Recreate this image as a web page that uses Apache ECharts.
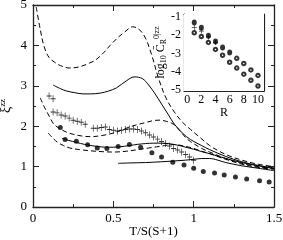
<!DOCTYPE html>
<html><head><meta charset="utf-8">
<script src="https://cdn.jsdelivr.net/npm/echarts@6/dist/echarts.min.js"></script>
<style>html,body{margin:0;padding:0;background:#fff}#c{width:283px;height:240px}</style>
</head><body><div id="c"></div>
<script>
// main panel curves
const d1X = [0.02,0.045,0.07,0.1,0.14,0.17,0.23,0.29,0.35,0.39,0.44,0.48,0.53,0.57,0.62,0.66,0.7,0.74,0.78,0.83,0.88,0.93,0.98,1.04,1.1,1.2,1.3,1.4,1.5];
const d1Y = [4.95,4.4,3.96,3.7,3.57,3.5,3.44,3.47,3.56,3.64,3.82,4.0,4.2,4.33,4.46,4.4,4.18,3.75,3.2,2.68,2.35,2.1,1.92,1.72,1.52,1.3,1.16,1.06,1.0];
const s1X = [0.125,0.17,0.21,0.26,0.31,0.36,0.42,0.47,0.52,0.58,0.63,0.68,0.72,0.76,0.8,0.84,0.88,0.93,0.98,1.05,1.1,1.2,1.3,1.4,1.5];
const s1Y = [3.02,2.93,2.87,2.83,2.8,2.8,2.82,2.87,2.95,3.12,3.22,3.18,3.02,2.8,2.55,2.3,2.05,1.83,1.67,1.52,1.42,1.25,1.12,1.03,0.97];
const d2X = [0.045,0.07,0.09,0.11,0.13,0.17,0.21,0.25,0.3,0.36,0.43,0.5,0.55,0.6,0.66,0.71,0.75,0.79,0.83,0.86,0.89,0.92,0.95,0.98,1.05,1.1,1.2,1.3,1.4,1.5];
const d2Y = [2.7,2.48,2.33,2.18,2.05,1.93,1.85,1.8,1.76,1.74,1.77,1.83,1.9,1.98,2.05,2.1,2.14,2.15,2.12,2.08,2.0,1.86,1.72,1.62,1.45,1.36,1.2,1.08,1.0,0.95];
const s2X = [0.18,0.22,0.27,0.32,0.36,0.4,0.45,0.5,0.54,0.6,0.65,0.7,0.75,0.8,0.84,0.9,0.95,1.0,1.05,1.1,1.2,1.3,1.4,1.5];
const s2Y = [1.7,1.65,1.6,1.55,1.52,1.5,1.48,1.48,1.49,1.52,1.55,1.57,1.58,1.58,1.57,1.53,1.48,1.43,1.37,1.32,1.2,1.1,1.02,0.95];
const d3X = [0.095,0.12,0.15,0.19,0.23,0.29,0.36,0.43,0.5,0.58,0.67,0.72,0.77,0.82,0.86,0.9,0.95,1.0,1.05,1.1,1.2,1.3,1.4,1.5];
const d3Y = [1.83,1.72,1.61,1.52,1.46,1.42,1.39,1.37,1.36,1.38,1.43,1.46,1.49,1.52,1.55,1.54,1.5,1.45,1.38,1.32,1.18,1.06,0.98,0.93];
const s3X = [0.53,0.6,0.7,0.8,0.88,0.95,1.0,1.05,1.1,1.15,1.2,1.3,1.4,1.5];
const s3Y = [1.08,1.09,1.1,1.12,1.14,1.16,1.18,1.2,1.2,1.16,1.1,1.02,0.96,0.9];
// main panel points
const dotX = [0.17,0.2,0.27,0.34,0.4,0.46,0.53,0.6,0.67,0.74,0.8,0.87,0.94,1.0,1.06,1.13,1.19,1.26,1.33,1.41,1.47];
const dotY = [1.97,1.67,1.63,1.54,1.46,1.45,1.5,1.55,1.48,1.34,1.24,1.11,1.04,0.96,0.88,0.84,0.79,0.74,0.69,0.65,0.62];
const crossX = [0.1,0.125,0.125,0.15,0.175,0.2,0.225,0.25,0.275,0.3,0.325,0.375,0.4,0.425,0.45,0.475,0.5,0.525,0.55,0.575,0.6,0.625,0.65,0.675,0.7,0.725,0.75,0.775,0.8,0.825,0.85,0.875,0.9,0.925,0.95,0.975,1.0];
const crossY = [2.75,2.68,2.35,2.33,2.28,2.25,2.2,2.15,2.12,2.1,2.05,1.95,1.95,1.97,1.98,1.92,1.9,1.88,1.9,1.92,1.93,1.93,1.92,1.88,1.84,1.78,1.73,1.68,1.62,1.57,1.51,1.45,1.41,1.36,1.3,1.24,1.16];
// inset
const inFillR = [1,2,3,4,5,6];
const inFillY = [-1.32,-1.6,-2.03,-2.35,-2.68,-2.95];
const inPlusR = [1,2,3,4];
const inPlusY = [-1.58,-1.78,-2.1,-2.4];
const inOpenR = [1,2,3,4,5,6,7,8,9,10];
const inOpenY = [-1.87,-2.08,-2.4,-2.78,-3.1,-3.48,-3.8,-4.13,-4.46,-4.78];
const inOpen2R = [7,8,9,10];
const inOpen2Y = [-3.27,-3.55,-3.9,-4.2];
const inXTicks = [0,2,4,6,8,10];
const inXMinor = [1,3,5,7,9];
const inYTicks = [-5,-4,-3,-2,-1];

const zip = (a,b) => a.map((v,i)=>[v,b[i]]);
const FONT = 'Liberation Serif';
const AX = '#222';
const crossSym = 'path://M4.3,0 H5.7 V4.3 H10 V5.7 H5.7 V10 H4.3 V5.7 H0 V4.3 H4.3 Z';

function mainX(pos, labels){
  return {type:'value', gridIndex:0, position:pos, min:0, max:1.5, interval:0.5,
    axisLine:{show:true, onZero:false, lineStyle:{color:AX, width:1.3}},
    axisTick:{show:true, inside:true, length:6, lineStyle:{color:AX}},
    minorTick:{show:true, splitNumber:2, length:3, lineStyle:{color:AX}},
    splitLine:{show:false},
    axisLabel:{show:labels, fontFamily:FONT, fontSize:13, color:'#000', margin:5},
    name: labels ? 'T/S(S+1)' : '', nameLocation:'middle', nameGap:18, nameMoveOverlap:false,
    nameTextStyle:{fontFamily:FONT, fontSize:13, color:'#000'}};
}
function mainY(pos, labels){
  return {type:'value', gridIndex:0, position:pos, min:0, max:5, interval:1,
    axisLine:{show:true, onZero:false, lineStyle:{color:AX, width:1.3}},
    axisTick:{show:true, inside:true, length:6, lineStyle:{color:AX}},
    minorTick:{show:true, splitNumber:2, length:3, lineStyle:{color:AX}},
    splitLine:{show:false},
    axisLabel:{show:labels, fontFamily:FONT, fontSize:13, color:'#000', margin:6},
    name: labels ? '{a|ξ}{b|zz}' : '', nameLocation:'middle', nameGap:19, nameMoveOverlap:false,
    nameTextStyle:{fontFamily:FONT, color:'#000',
      rich:{a:{fontFamily:FONT, fontSize:14, color:'#000'}, b:{fontFamily:FONT, fontSize:9, color:'#000', padding:[0,0,7,0]}}}};
}
function inX(pos, vals, len, labels, line){
  return {type:'value', gridIndex:1, position:pos, min:-0.45, max:10.85,
    axisLine:{show:line, onZero:false, lineStyle:{color:AX, width:1.2}},
    axisTick:{show:true, inside:true, length:len, customValues:vals, lineStyle:{color:AX}},
    splitLine:{show:false},
    axisLabel:{show:labels, customValues:vals, fontFamily:FONT, fontSize:12, color:'#000', margin:3},
    name: labels ? 'R' : '', nameLocation:'middle', nameGap:16, nameMoveOverlap:false,
    nameTextStyle:{fontFamily:FONT, fontSize:12, color:'#000'}};
}
function inY(pos, labels){
  return {type:'value', gridIndex:1, position:pos, min:-5.05, max:-0.85,
    axisLine:{show:true, onZero:false, lineStyle:{color:AX, width:1.2}},
    axisTick:{show:true, inside:true, length:4, customValues:inYTicks, lineStyle:{color:AX}},
    splitLine:{show:false},
    axisLabel:{show:labels, customValues:inYTicks, fontFamily:FONT, fontSize:12, color:'#000', margin:3},
    name: labels ? '{a|log}{s|10} {a|C̄}{s|R}{p|0|zz}' : '', nameLocation:'middle', nameGap:16, nameMoveOverlap:false,
    nameTextStyle:{fontFamily:FONT, color:'#000',
      rich:{a:{fontFamily:FONT, fontSize:12, color:'#000'},
            s:{fontFamily:FONT, fontSize:8, color:'#000', padding:[6,0,0,0]},
            p:{fontFamily:FONT, fontSize:8, color:'#000', padding:[0,0,7,0]}}}};
}

function line(x, y, dashed){
  return {type:'line', xAxisIndex:0, yAxisIndex:0, data:zip(x,y), showSymbol:false, smooth:0.35,
    lineStyle:{color:'#000', width:1, type: dashed ? [5,3] : 'solid'}, silent:true, z:2};
}

const option = {
  animation:false,
  backgroundColor:'#fff',
  grid:[
    {left:33, top:5, width:241, height:202, outerBoundsMode:'none', containLabel:false},
    {left:184, top:14, width:80, height:77, outerBoundsMode:'none', containLabel:false,
      show:true, backgroundColor:'#fff', borderWidth:0, z:5}
  ],
  xAxis:[ mainX('bottom', true), mainX('top', false),
          inX('bottom', inXTicks, 4, true, true), inX('bottom', inXMinor, 2, false, false),
          inX('top', inXTicks, 4, false, true), inX('top', inXMinor, 2, false, false) ],
  yAxis:[ mainY('left', true), mainY('right', false), inY('left', true), inY('right', false) ],
  series:[
    line(d1X,d1Y,true), line(s1X,s1Y,false), line(d2X,d2Y,true),
    line(s2X,s2Y,false), line(d3X,d3Y,true), line(s3X,s3Y,false),
    {type:'scatter', xAxisIndex:0, yAxisIndex:0, data:zip(dotX,dotY), symbol:'circle', symbolSize:5,
      itemStyle:{color:'#000'}, z:3},
    {type:'scatter', xAxisIndex:0, yAxisIndex:0, data:zip(crossX,crossY), symbol:crossSym, symbolSize:[5,7],
      itemStyle:{color:'#000'}, z:3},
    {type:'scatter', xAxisIndex:2, yAxisIndex:2, data:zip(inFillR,inFillY), symbol:'circle', symbolSize:[5,6],
      itemStyle:{color:'#000'}, z:6},
    {type:'scatter', xAxisIndex:2, yAxisIndex:2, data:zip(inPlusR,inPlusY), symbol:crossSym, symbolSize:[5,5],
      itemStyle:{color:'#000'}, z:6},
    {type:'scatter', xAxisIndex:2, yAxisIndex:2, data:zip(inOpenR,inOpenY), symbol:'emptyCircle', symbolSize:3.5,
      itemStyle:{color:'#000', borderColor:'#000', borderWidth:1}, z:6},
    {type:'scatter', xAxisIndex:2, yAxisIndex:2, data:zip(inOpen2R,inOpen2Y), symbol:'emptyCircle', symbolSize:3.5,
      itemStyle:{color:'#000', borderColor:'#000', borderWidth:1}, z:6}
  ]
};
echarts.init(document.getElementById('c'), null, {renderer:'canvas'}).setOption(option);
</script></body></html>
